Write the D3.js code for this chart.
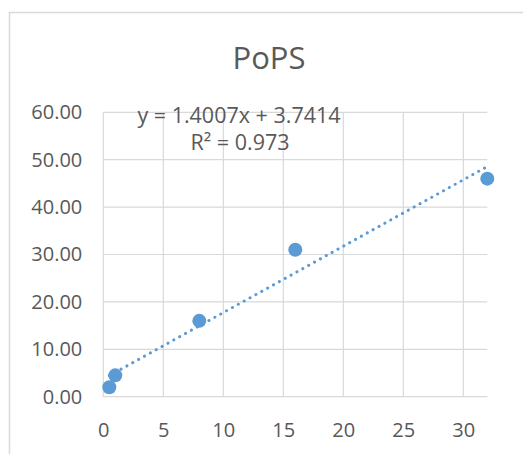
<!DOCTYPE html>
<html>
<head>
<meta charset="utf-8">
<script src="https://cdnjs.cloudflare.com/ajax/libs/d3/7.8.5/d3.min.js"></script>
<style>
  body { margin: 0; background: #fff; }
  text { font-family: "Open Sans", sans-serif; fill: #595959; }
</style>
</head>
<body>
<div id="chart"></div>
<script>
// data
let xVals = [0.5, 1, 8, 16, 32];
let yVals = [2, 4.5, 16, 31, 46];
let xTicks = [0, 5, 10, 15, 20, 25, 30];
let yTicks = [0, 10, 20, 30, 40, 50, 60];
let slope = 1.4007;
let intercept = 3.7414;
let r2 = 0.973;
let title = "PoPS";

let svgWidth = 523;
let svgHeight = 454;
let margin = { top: 112.3, right: 35.7, bottom: 57.3, left: 103.3 };

let svg = d3.select("#chart")
    .append("svg")
    .attr("width", svgWidth)
    .attr("height", svgHeight);

// outer chart border (only left + top visible in the crop)
svg.append("path")
    .attr("d", `M9.5,${svgHeight} L9.5,12.5 L${svgWidth},12.5`)
    .attr("fill", "none")
    .attr("stroke", "#d9d9d9")
    .attr("stroke-width", 1.5);

let xScale = d3.scaleLinear()
    .domain([0, 32])
    .range([margin.left, svgWidth - margin.right]);

let yScale = d3.scaleLinear()
    .domain([0, 60])
    .range([svgHeight - margin.bottom, margin.top]);

// gridlines
let grid = svg.append("g");
grid.selectAll("line.v")
    .data(xTicks)
    .enter()
    .append("line")
    .attr("class", "v")
    .attr("x1", d => xScale(d))
    .attr("x2", d => xScale(d))
    .attr("y1", yScale(0))
    .attr("y2", yScale(60))
    .attr("stroke", "#d9d9d9")
    .attr("stroke-width", 1.2);

grid.selectAll("line.h")
    .data(yTicks)
    .enter()
    .append("line")
    .attr("class", "h")
    .attr("x1", xScale(0))
    .attr("x2", xScale(32))
    .attr("y1", d => yScale(d))
    .attr("y2", d => yScale(d))
    .attr("stroke", "#d9d9d9")
    .attr("stroke-width", 1.2);

// axes (labels only, lines come from the grid)
let xAxis = d3.axisBottom(xScale).tickValues(xTicks).tickSize(0).tickPadding(26);
let yAxis = d3.axisLeft(yScale).tickValues(yTicks).tickSize(0).tickPadding(21)
    .tickFormat(d3.format(".2f"));

svg.append("g")
    .attr("transform", `translate(0, ${yScale(0)})`)
    .call(xAxis)
    .call(g => g.select(".domain").remove())
    .selectAll("text")
    .style("font-size", "20px")
    .attr("fill", "#595959");

svg.append("g")
    .attr("transform", `translate(${xScale(0)}, 0)`)
    .call(yAxis)
    .call(g => g.select(".domain").remove())
    .selectAll("text")
    .style("font-size", "20px")
    .attr("fill", "#595959");

svg.selectAll(".tick text").style("font-family", "'Open Sans', sans-serif");

// title
svg.append("text")
    .attr("x", 269)
    .attr("y", 69)
    .attr("text-anchor", "middle")
    .style("font-size", "31px")
    .text(title);

// trendline
let trendX = d3.extent(xVals);
let line = d3.line()
    .x(d => xScale(d))
    .y(d => yScale(slope * d + intercept));

svg.append("path")
    .datum(trendX)
    .attr("d", line)
    .attr("fill", "none")
    .attr("stroke", "#5b9bd5")
    .attr("stroke-width", 3)
    .attr("stroke-linecap", "round")
    .attr("stroke-dasharray", "0.1 6.6");

// points
svg.selectAll("circle")
    .data(xVals.map((x, i) => ({ x: x, y: yVals[i] })))
    .enter()
    .append("circle")
    .attr("cx", d => xScale(d.x))
    .attr("cy", d => yScale(d.y))
    .attr("r", 7)
    .attr("fill", "#5b9bd5");

// equation label
svg.append("text")
    .attr("x", 239)
    .attr("y", 123)
    .attr("text-anchor", "middle")
    .style("font-size", "21.5px")
    .text(`y = ${slope}x + ${intercept}`);

svg.append("text")
    .attr("x", 240)
    .attr("y", 150)
    .attr("text-anchor", "middle")
    .style("font-size", "21.5px")
    .text(`R² = ${r2}`);
</script>
</body>
</html>
